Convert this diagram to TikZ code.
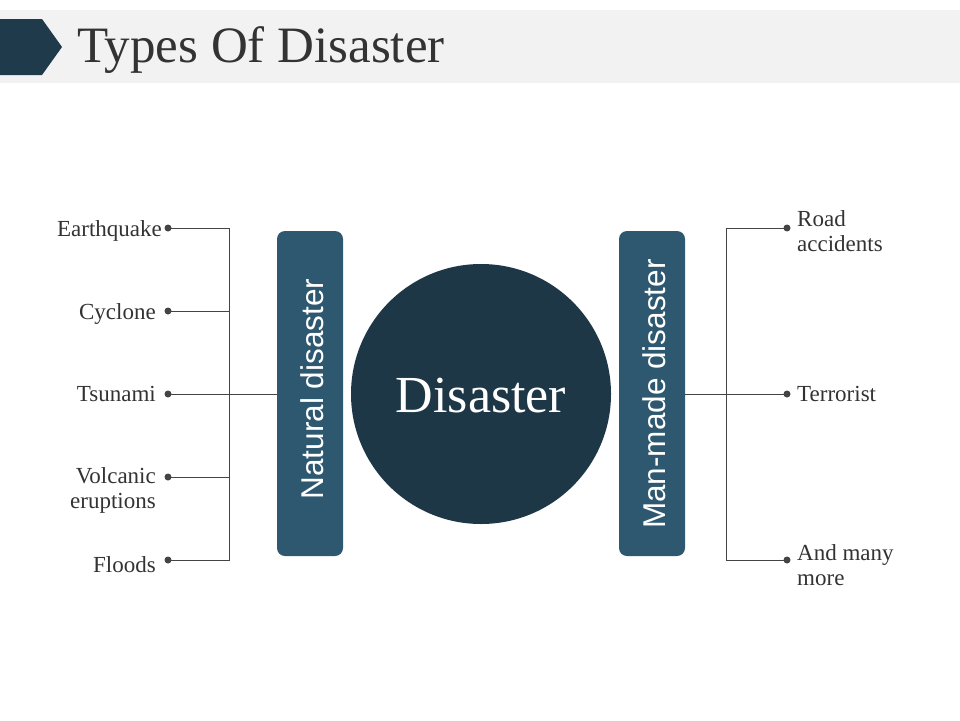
\documentclass[tikz,border=0pt]{standalone}
\usepackage{fontspec}
\setmainfont{Liberation Serif}
\newfontfamily\barfont{Liberation Sans}
\definecolor{darknavy}{HTML}{1F3A4A}
\definecolor{circlecol}{HTML}{1E3747}
\definecolor{barcol}{HTML}{2D5870}
\definecolor{bandgray}{HTML}{F2F2F2}
\definecolor{txtgray}{HTML}{333333}
\definecolor{linegray}{HTML}{444444}
\begin{document}
\begin{tikzpicture}[x=1pt,y=-1pt,
  barbox/.style={fill=barcol,draw=none,rounded corners=8pt,minimum width=66pt,minimum height=325pt},
  bartext/.style={text=white,font=\barfont\fontsize{31.5}{34}\selectfont,rotate=90},
  lbl/.style={text=txtgray,font=\fontsize{23}{25}\selectfont,inner sep=0pt},
  dotc/.style={circle,fill=linegray,inner sep=0pt,minimum size=7pt},
  conn/.style={draw=linegray,line width=0.9pt}]
\useasboundingbox (0,0) rectangle (960,720);
\fill[white] (0,0) rectangle (960,720);
% title band
\fill[bandgray] (0,10) rectangle (960,83);
\fill[darknavy] (0,19) -- (42,19) -- (62,47) -- (42,75) -- (0,75) -- cycle;
\node[anchor=base west,inner sep=0pt,text=txtgray,font=\fontsize{51}{55}\selectfont] (title) at (77,62) {Types Of Disaster};
% centre
\node[circle,fill=circlecol,minimum size=260pt,inner sep=0pt] (disc) at (481,394) {};
\node[text=white,font=\fontsize{52}{56}\selectfont] (disclbl) at (481,396) {Disaster};
% bars
\node[barbox] (natbar) at (310,393.5) {};
\node[bartext] (nattxt) at (312,389) {Natural disaster};
\node[barbox] (manbar) at (652,393.5) {};
\node[bartext] (mantxt) at (654,394) {Man-made disaster};
% left dots
\node[dotc] (d1) at (168,228) {};
\node[dotc] (d2) at (168,311) {};
\node[dotc] (d3) at (168,394) {};
\node[dotc] (d4) at (168,477) {};
\node[dotc] (d5) at (168,560) {};
\coordinate (l1) at (229,228);
\coordinate (l2) at (229,311);
\coordinate (l3) at (229,394);
\coordinate (l4) at (229,477);
\coordinate (l5) at (229,560);
\draw[conn] (d1.center) -- (l1) -- (l5) -- (d5.center);
\draw[conn] (d2.center) -- (l2);
\draw[conn] (d3.center) -- (natbar.west |- d3);
\draw[conn] (d4.center) -- (l4);
% left labels
\node[lbl,anchor=base east] (t1) at (162,236) {Earthquake};
\node[lbl,anchor=base east] (t2) at (156,319) {Cyclone};
\node[lbl,anchor=base east] (t3) at (156,401) {Tsunami};
\node[lbl,anchor=base east,align=right] (t4) at (156,508) {Volcanic\\eruptions};
\node[lbl,anchor=base east] (t5) at (156,572) {Floods};
% right dots
\node[dotc] (r1) at (787,228) {};
\node[dotc] (r2) at (787,394) {};
\node[dotc] (r3) at (787,560) {};
\coordinate (m1) at (726,228);
\coordinate (m3) at (726,560);
\draw[conn] (r1.center) -- (m1) -- (m3) -- (r3.center);
\draw[conn] (manbar.east |- r2) -- (r2.center);
% right labels
\node[lbl,anchor=base west,align=left] (s1) at (797,251) {Road\\accidents};
\node[lbl,anchor=base west] (s2) at (797,401) {Terrorist};
\node[lbl,anchor=base west,align=left] (s3) at (797,585) {And many\\more};
\end{tikzpicture}
\end{document}
